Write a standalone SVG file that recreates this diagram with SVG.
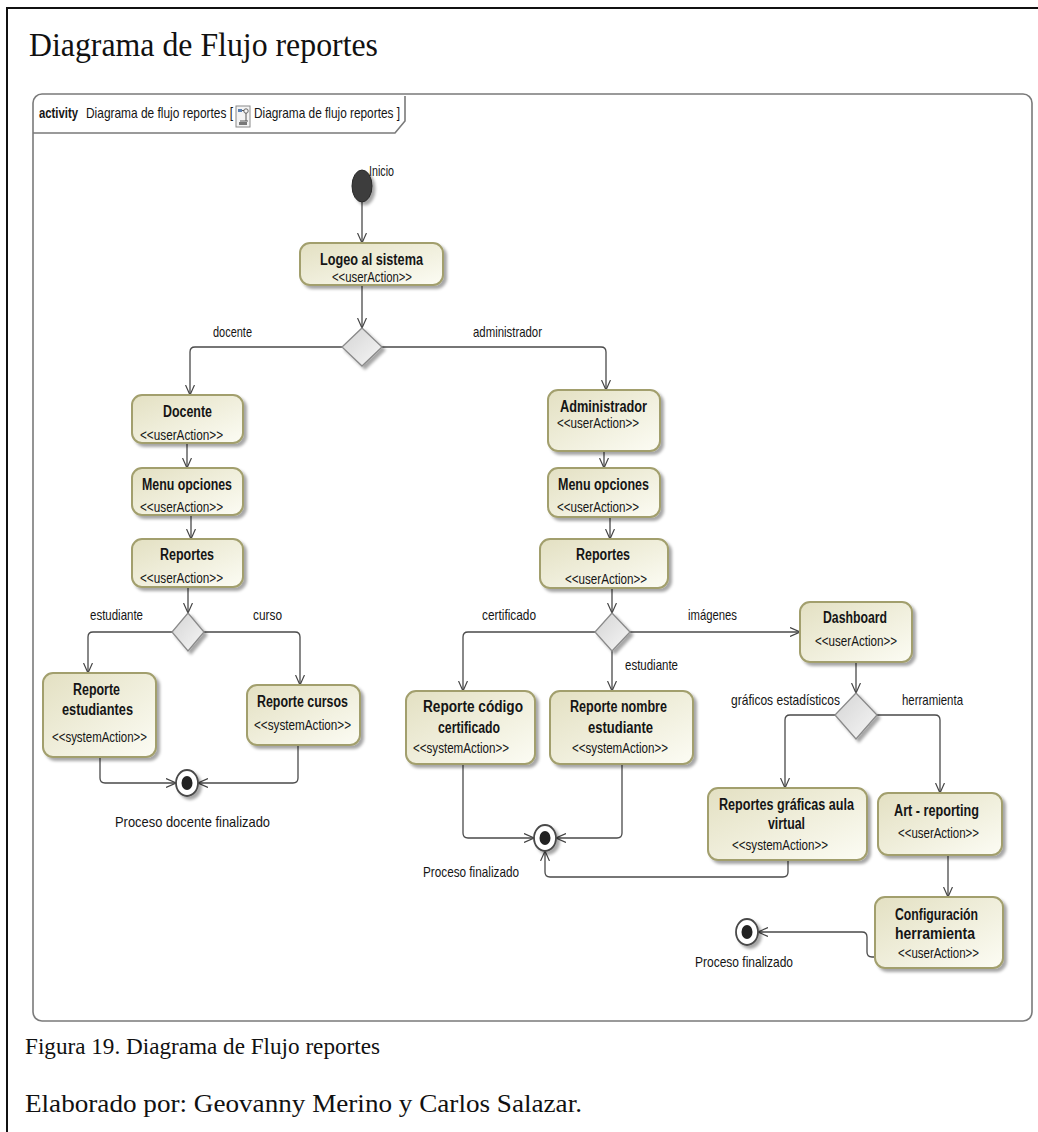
<svg xmlns="http://www.w3.org/2000/svg" width="1038" height="1132" viewBox="0 0 1038 1132">
  <defs>
    <linearGradient id="nodeFill" x1="0" y1="0" x2="1" y2="1">
      <stop offset="0" stop-color="#e3e0c2"/>
      <stop offset="1" stop-color="#fcfcf4"/>
    </linearGradient>
    <linearGradient id="decisionFill" x1="0" y1="0" x2="1" y2="1">
      <stop offset="0" stop-color="#d4d4d4"/>
      <stop offset="1" stop-color="#f6f6f6"/>
    </linearGradient>
    <filter id="shadow" x="-20%" y="-20%" width="150%" height="150%">
      <feDropShadow dx="3" dy="3" stdDeviation="1.8" flood-color="#000" flood-opacity="0.35"/>
    </filter>
    <marker id="arrow" viewBox="0 0 10 10" refX="10" refY="5" markerWidth="10" markerHeight="10" markerUnits="userSpaceOnUse" orient="auto">
      <path d="M0,0.5 L10,5 L0,9.5" fill="none" stroke="#444" stroke-width="1.2"/>
    </marker>
    <style>
      .page { fill: none; stroke: #111; stroke-width: 2; }
      .frame { fill: #fff; stroke: #7a7a7a; stroke-width: 1.6; }
      .serif { font-family: "Liberation Serif", "Times New Roman", serif; fill: #111; }
      .t { font-family: "Liberation Sans Narrow", "Liberation Sans", Arial, sans-serif; fill: #151515; }
      .b { font-weight: bold; font-size: 16px; }
      .s { font-size: 14.5px; }
      .l { font-size: 15px; }
      .h { font-size: 14.5px; }
      .action { fill: url(#nodeFill); stroke: #a29f6d; stroke-width: 2; filter: url(#shadow); }
      .decision { fill: url(#decisionFill); stroke: #8a8a8a; stroke-width: 1.3; filter: url(#shadow); }
      .initial { fill: #3c3c3c; stroke: #2a2a2a; stroke-width: 1; filter: url(#shadow); }
      .final-ring { fill: #fff; stroke: #4a4a4a; stroke-width: 1.8; filter: url(#shadow); }
      .final-dot { fill: #222; }
      .edge { fill: none; stroke: #4a4a4a; stroke-width: 1.3; marker-end: url(#arrow); }
    </style>
  </defs>

  <rect width="1038" height="1132" fill="#fff"/>
  <!-- page border -->
  <path class="page" d="M7 1132 V8 H1038"/>

  <text class="serif" x="29" y="56" font-size="34" textLength="349" lengthAdjust="spacingAndGlyphs">Diagrama de Flujo reportes</text>

  <!-- activity frame -->
  <rect class="frame" x="33" y="94" width="999" height="927" rx="9"/>
  <path d="M33 133 H395 L405 121 V96" fill="none" stroke="#7a7a7a" stroke-width="1.6"/>
  <text class="t h" x="39" y="118" font-weight="bold" textLength="39" lengthAdjust="spacingAndGlyphs">activity</text>
  <text class="t h" x="86" y="118" textLength="147" lengthAdjust="spacingAndGlyphs">Diagrama de flujo reportes [</text>
  <g id="frame-icon">
    <rect x="236" y="106" width="14" height="21" fill="#f3f3f3" stroke="#8a8a8a" stroke-width="1"/>
    <rect x="238" y="109" width="4" height="3" fill="#5a7fb0"/>
    <circle cx="246" cy="111" r="2.2" fill="none" stroke="#666" stroke-width="1"/>
    <path d="M242 110.5 H244 M246 113 V121 M240 121 H248" stroke="#555" stroke-width="1" fill="none"/>
    <rect x="239" y="122" width="8" height="3" fill="#777"/>
  </g>
  <text class="t h" x="254" y="118" textLength="146" lengthAdjust="spacingAndGlyphs">Diagrama de flujo reportes ]</text>

  <!-- control flows -->
  <g id="connectors">
    <path class="edge" d="M362 202 V243"/>
    <path class="edge" d="M362 285 V328"/>
    <path class="edge" d="M342 347 H195 Q190 347 190 352 V395"/>
    <path class="edge" d="M382 347 H601 Q606 347 606 352 V390"/>
    <path class="edge" d="M187 443 V468"/>
    <path class="edge" d="M191 515 V539"/>
    <path class="edge" d="M188 587 V613"/>
    <path class="edge" d="M172 632 H93 Q88 632 88 637 V673"/>
    <path class="edge" d="M204 632 H295 Q300 632 300 637 V685"/>
    <path class="edge" d="M100 757 V778 Q100 783 105 783 H176"/>
    <path class="edge" d="M298 745 V778 Q298 783 293 783 H198"/>
    <path class="edge" d="M604 451 V468"/>
    <path class="edge" d="M610 517 V539"/>
    <path class="edge" d="M612 588 V613"/>
    <path class="edge" d="M595 632 H468 Q463 632 463 637 V691"/>
    <path class="edge" d="M612 651 V691"/>
    <path class="edge" d="M630 632 H800"/>
    <path class="edge" d="M463 764 V833 Q463 838 468 838 H534"/>
    <path class="edge" d="M622 764 V833 Q622 838 617 838 H556"/>
    <path class="edge" d="M856 662 V693"/>
    <path class="edge" d="M835 715 H790 Q785 715 785 720 V788"/>
    <path class="edge" d="M877 715 H935 Q940 715 940 720 V793"/>
    <path class="edge" d="M788 860 V872 Q788 877 783 877 H550 Q545 877 545 872 V851"/>
    <path class="edge" d="M948 855 V897"/>
    <path class="edge" d="M875 957 H872 Q867 957 867 952 V937 Q867 932 862 932 H758"/>
    <text class="t l" x="213" y="337" textLength="39" lengthAdjust="spacingAndGlyphs">docente</text>
    <text class="t l" x="473" y="337" textLength="69" lengthAdjust="spacingAndGlyphs">administrador</text>
    <text class="t l" x="90" y="620" textLength="53" lengthAdjust="spacingAndGlyphs">estudiante</text>
    <text class="t l" x="253" y="620" textLength="29" lengthAdjust="spacingAndGlyphs">curso</text>
    <text class="t l" x="482" y="620" textLength="54" lengthAdjust="spacingAndGlyphs">certificado</text>
    <text class="t l" x="688" y="620" textLength="49" lengthAdjust="spacingAndGlyphs">imágenes</text>
    <text class="t l" x="625" y="670" textLength="53" lengthAdjust="spacingAndGlyphs">estudiante</text>
    <text class="t l" x="731" y="705" textLength="109" lengthAdjust="spacingAndGlyphs">gráficos estadísticos</text>
    <text class="t l" x="902" y="705" textLength="61" lengthAdjust="spacingAndGlyphs">herramienta</text>
  </g>

  <!-- initial node -->
  <g id="inicio">
    <ellipse class="initial" cx="362" cy="186" rx="10" ry="16"/>
    <text class="t l" x="369" y="176" textLength="25" lengthAdjust="spacingAndGlyphs">Inicio</text>
  </g>

  <g id="logeo">
    <rect class="action" x="300" y="243" width="143" height="42" rx="10"/>
    <text class="t b" x="320" y="265" textLength="103" lengthAdjust="spacingAndGlyphs">Logeo al sistema</text>
    <text class="t s" x="332" y="282" textLength="80" lengthAdjust="spacingAndGlyphs">&lt;&lt;userAction&gt;&gt;</text>
  </g>

  <g id="decision-rol">
    <polygon class="decision" points="362,328 382,347 362,366 342,347"/>
  </g>

  <!-- docente branch -->
  <g id="docente">
    <rect class="action" x="132" y="395" width="111" height="48" rx="10"/>
    <text class="t b" x="163" y="417" textLength="49" lengthAdjust="spacingAndGlyphs">Docente</text>
    <text class="t s" x="140" y="440" textLength="83" lengthAdjust="spacingAndGlyphs">&lt;&lt;userAction&gt;&gt;</text>
  </g>
  <g id="menu-docente">
    <rect class="action" x="132" y="468" width="111" height="47" rx="10"/>
    <text class="t b" x="142" y="490" textLength="90" lengthAdjust="spacingAndGlyphs">Menu opciones</text>
    <text class="t s" x="140" y="512" textLength="83" lengthAdjust="spacingAndGlyphs">&lt;&lt;userAction&gt;&gt;</text>
  </g>
  <g id="reportes-docente">
    <rect class="action" x="132" y="539" width="111" height="48" rx="10"/>
    <text class="t b" x="160" y="560" textLength="54" lengthAdjust="spacingAndGlyphs">Reportes</text>
    <text class="t s" x="140" y="583" textLength="83" lengthAdjust="spacingAndGlyphs">&lt;&lt;userAction&gt;&gt;</text>
  </g>
  <g id="decision-docente">
    <polygon class="decision" points="188,613 204,632 188,651 172,632"/>
  </g>
  <g id="reporte-estudiantes">
    <rect class="action" x="43" y="673" width="113" height="84" rx="10"/>
    <text class="t b" x="73" y="695" textLength="47" lengthAdjust="spacingAndGlyphs">Reporte</text>
    <text class="t b" x="62" y="715" textLength="71" lengthAdjust="spacingAndGlyphs">estudiantes</text>
    <text class="t s" x="52" y="742" textLength="95" lengthAdjust="spacingAndGlyphs">&lt;&lt;systemAction&gt;&gt;</text>
  </g>
  <g id="reporte-cursos">
    <rect class="action" x="247" y="685" width="113" height="60" rx="10"/>
    <text class="t b" x="257" y="707" textLength="91" lengthAdjust="spacingAndGlyphs">Reporte cursos</text>
    <text class="t s" x="254" y="730" textLength="97" lengthAdjust="spacingAndGlyphs">&lt;&lt;systemAction&gt;&gt;</text>
  </g>
  <g id="fin-docente">
    <ellipse class="final-ring" cx="187" cy="783" rx="11" ry="13"/>
    <ellipse class="final-dot" cx="187" cy="783" rx="5.5" ry="7"/>
    <text class="t l" x="115" y="827" textLength="155" lengthAdjust="spacingAndGlyphs">Proceso docente finalizado</text>
  </g>

  <!-- administrador branch -->
  <g id="administrador">
    <rect class="action" x="548" y="390" width="112" height="61" rx="10"/>
    <text class="t b" x="560" y="412" textLength="87" lengthAdjust="spacingAndGlyphs">Administrador</text>
    <text class="t s" x="557" y="428" textLength="82" lengthAdjust="spacingAndGlyphs">&lt;&lt;userAction&gt;&gt;</text>
  </g>
  <g id="menu-admin">
    <rect class="action" x="548" y="468" width="112" height="49" rx="10"/>
    <text class="t b" x="558" y="490" textLength="91" lengthAdjust="spacingAndGlyphs">Menu opciones</text>
    <text class="t s" x="557" y="512" textLength="82" lengthAdjust="spacingAndGlyphs">&lt;&lt;userAction&gt;&gt;</text>
  </g>
  <g id="reportes-admin">
    <rect class="action" x="540" y="539" width="128" height="49" rx="10"/>
    <text class="t b" x="576" y="560" textLength="54" lengthAdjust="spacingAndGlyphs">Reportes</text>
    <text class="t s" x="565" y="584" textLength="82" lengthAdjust="spacingAndGlyphs">&lt;&lt;userAction&gt;&gt;</text>
  </g>
  <g id="decision-admin">
    <polygon class="decision" points="612,613 630,632 612,651 595,632"/>
  </g>
  <g id="reporte-codigo">
    <rect class="action" x="406" y="691" width="129" height="73" rx="10"/>
    <text class="t b" x="423" y="712" textLength="100" lengthAdjust="spacingAndGlyphs">Reporte código</text>
    <text class="t b" x="438" y="733" textLength="62" lengthAdjust="spacingAndGlyphs">certificado</text>
    <text class="t s" x="413" y="753" textLength="96" lengthAdjust="spacingAndGlyphs">&lt;&lt;systemAction&gt;&gt;</text>
  </g>
  <g id="reporte-nombre">
    <rect class="action" x="550" y="691" width="143" height="73" rx="10"/>
    <text class="t b" x="570" y="712" textLength="97" lengthAdjust="spacingAndGlyphs">Reporte nombre</text>
    <text class="t b" x="588" y="733" textLength="65" lengthAdjust="spacingAndGlyphs">estudiante</text>
    <text class="t s" x="572" y="753" textLength="96" lengthAdjust="spacingAndGlyphs">&lt;&lt;systemAction&gt;&gt;</text>
  </g>
  <g id="fin-reportes">
    <ellipse class="final-ring" cx="545" cy="838" rx="11" ry="13"/>
    <ellipse class="final-dot" cx="545" cy="838" rx="5.5" ry="7"/>
    <text class="t l" x="423" y="877" textLength="96" lengthAdjust="spacingAndGlyphs">Proceso finalizado</text>
  </g>
  <g id="dashboard">
    <rect class="action" x="800" y="602" width="112" height="60" rx="10"/>
    <text class="t b" x="823" y="623" textLength="64" lengthAdjust="spacingAndGlyphs">Dashboard</text>
    <text class="t s" x="815" y="646" textLength="82" lengthAdjust="spacingAndGlyphs">&lt;&lt;userAction&gt;&gt;</text>
  </g>
  <g id="decision-dashboard">
    <polygon class="decision" points="856,693 877,715 856,739 835,715"/>
  </g>
  <g id="reportes-graficas">
    <rect class="action" x="708" y="788" width="159" height="72" rx="10"/>
    <text class="t b" x="719" y="810" textLength="135" lengthAdjust="spacingAndGlyphs">Reportes gráficas aula</text>
    <text class="t b" x="768" y="829" textLength="37" lengthAdjust="spacingAndGlyphs">virtual</text>
    <text class="t s" x="732" y="850" textLength="96" lengthAdjust="spacingAndGlyphs">&lt;&lt;systemAction&gt;&gt;</text>
  </g>
  <g id="art-reporting">
    <rect class="action" x="878" y="793" width="124" height="62" rx="10"/>
    <text class="t b" x="894" y="816" textLength="85" lengthAdjust="spacingAndGlyphs">Art - reporting</text>
    <text class="t s" x="898" y="838" textLength="81" lengthAdjust="spacingAndGlyphs">&lt;&lt;userAction&gt;&gt;</text>
  </g>
  <g id="configuracion">
    <rect class="action" x="875" y="897" width="128" height="71" rx="10"/>
    <text class="t b" x="895" y="920" textLength="83" lengthAdjust="spacingAndGlyphs">Configuración</text>
    <text class="t b" x="895" y="939" textLength="80" lengthAdjust="spacingAndGlyphs">herramienta</text>
    <text class="t s" x="898" y="958" textLength="81" lengthAdjust="spacingAndGlyphs">&lt;&lt;userAction&gt;&gt;</text>
  </g>
  <g id="fin-herramienta">
    <ellipse class="final-ring" cx="747" cy="932" rx="11" ry="13"/>
    <ellipse class="final-dot" cx="747" cy="932" rx="5.5" ry="7"/>
    <text class="t l" x="695" y="967" textLength="98" lengthAdjust="spacingAndGlyphs">Proceso finalizado</text>
  </g>

  <!-- caption -->
  <text class="serif" x="25" y="1054" font-size="24" textLength="355" lengthAdjust="spacingAndGlyphs">Figura 19. Diagrama de Flujo reportes</text>
  <text class="serif" x="25" y="1112" font-size="26" textLength="557" lengthAdjust="spacingAndGlyphs">Elaborado por: Geovanny Merino y Carlos Salazar.</text>
</svg>
